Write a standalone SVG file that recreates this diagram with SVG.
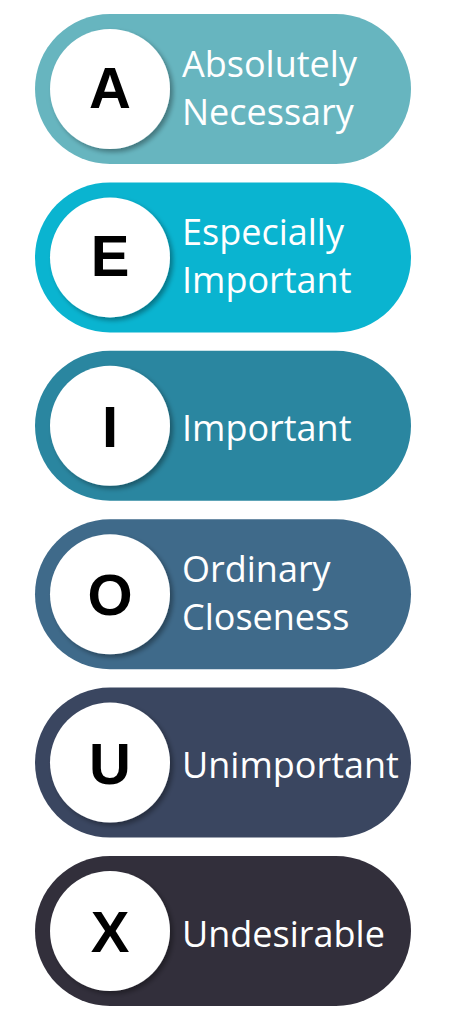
<svg xmlns="http://www.w3.org/2000/svg" width="459" height="1024" viewBox="0 0 459 1024">
<defs>
<filter id="sh" x="-20%" y="-20%" width="150%" height="150%">
<feGaussianBlur in="SourceAlpha" stdDeviation="2.5"/>
<feOffset dx="3" dy="3" result="b"/>
<feComponentTransfer><feFuncA type="linear" slope="0.35"/></feComponentTransfer>
<feMerge><feMergeNode/><feMergeNode in="SourceGraphic"/></feMerge>
</filter>
</defs>
<style>
.pill{stroke:none}
.circ{fill:#ffffff}
.let{font-family:"Liberation Sans",Arial,sans-serif;font-weight:bold;font-size:58px;fill:#000000;text-anchor:middle}
.lbl{font-family:"Open Sans","Noto Sans",sans-serif;font-size:36px;fill:#ffffff}
</style>
<rect width="459" height="1024" fill="#ffffff"/>
<g id="node-A">
<rect class="pill" x="35" y="14" width="376" height="150" rx="75" fill="#67B5BF"/>
<circle class="circ" cx="110" cy="89" r="60" filter="url(#sh)"/>
<text class="let" x="110" y="108">A</text>
<text class="lbl" x="182" y="77">Absolutely</text>
<text class="lbl" x="182" y="125">Necessary</text>
</g>
<g id="node-E">
<rect class="pill" x="35" y="182.4" width="376" height="150" rx="75" fill="#0AB4D0"/>
<circle class="circ" cx="110" cy="257.4" r="60" filter="url(#sh)"/>
<text class="let" x="110" y="276.4">E</text>
<text class="lbl" x="182" y="245.4">Especially</text>
<text class="lbl" x="182" y="293.4">Important</text>
</g>
<g id="node-I">
<rect class="pill" x="35" y="350.8" width="376" height="150" rx="75" fill="#2A86A0"/>
<circle class="circ" cx="110" cy="425.8" r="60" filter="url(#sh)"/>
<text class="let" x="110" y="446.8">I</text>
<text class="lbl" x="182" y="441.3">Important</text>
</g>
<g id="node-O">
<rect class="pill" x="35" y="519.2" width="376" height="150" rx="75" fill="#3F6A8A"/>
<circle class="circ" cx="110" cy="594.2" r="60" filter="url(#sh)"/>
<text class="let" x="110" y="615.2">O</text>
<text class="lbl" x="182" y="582.2">Ordinary</text>
<text class="lbl" x="182" y="630.2">Closeness</text>
</g>
<g id="node-U">
<rect class="pill" x="35" y="687.6" width="376" height="150" rx="75" fill="#3A4660"/>
<circle class="circ" cx="110" cy="762.6" r="60" filter="url(#sh)"/>
<text class="let" x="110" y="783.6">U</text>
<text class="lbl" x="182" y="778">Unimportant</text>
</g>
<g id="node-X">
<rect class="pill" x="35" y="856" width="376" height="150" rx="75" fill="#322F3B"/>
<circle class="circ" cx="110" cy="931" r="60" filter="url(#sh)"/>
<text class="let" x="110" y="952">X</text>
<text class="lbl" x="182" y="946.5">Undesirable</text>
</g>
<g id="connectors"/>
</svg>
